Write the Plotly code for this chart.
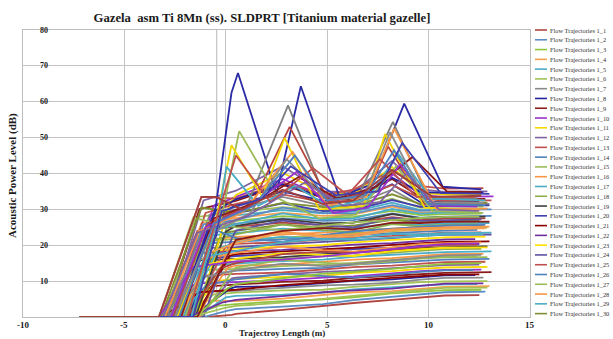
import plotly.graph_objects as go

# Trajectory length stations shared by the main band of trajectories (m)
STATION_X = [0.5, 2.8, 4.8, 6.3, 8.2, 9.6, 10.8]

# One row per trajectory:
# floor start, climb start, knee x, knee level, levels at STATION_X, end x, end level
BAND_ROWS = [
    [-7.2, -0.9, 0.3, 0.6, 0.9, 2.0, 3.2, 3.9, 4.8, 5.5, 6.0, 12.5, 6.1],
    [-6.4, -1.1, 0.1, 1.8, 2.2, 2.9, 3.6, 4.7, 5.6, 6.3, 6.9, 12.8, 7.1],
    [-7.2, -1.9, -0.3, 3.2, 3.6, 4.4, 4.9, 5.5, 6.6, 7.1, 7.5, 12.6, 7.6],
    [-5.1, -2.7, -0.9, 4.6, 4.4, 5.1, 6.2, 6.9, 7.2, 7.9, 8.4, 13.0, 8.6],
    [-7.2, -1.4, 0.0, 5.5, 5.9, 6.2, 6.8, 7.7, 8.3, 8.6, 9.1, 12.4, 9.2],
    [-4.3, -2.2, -0.6, 6.3, 6.8, 7.4, 7.6, 8.4, 9.2, 9.7, 9.9, 12.9, 10.0],
    [-7.2, -3.0, -1.3, 7.1, 7.3, 8.1, 8.8, 9.0, 9.6, 10.4, 10.9, 12.7, 11.0],
    [-6.1, -1.7, 0.2, 7.9, 8.4, 8.6, 9.5, 10.1, 10.5, 11.0, 11.6, 12.3, 11.7],
    [-7.2, -2.4, -0.7, 8.6, 9.0, 9.8, 10.1, 10.9, 11.5, 11.9, 12.3, 13.1, 12.5],
    [-3.7, -3.2, -1.5, 9.4, 9.7, 10.3, 11.0, 11.3, 12.2, 12.8, 13.1, 12.6, 13.2],
    [-7.2, -2.0, -0.4, 10.1, 10.6, 11.2, 11.5, 12.3, 12.8, 13.4, 13.8, 12.9, 14.0],
    [-5.6, -1.3, 0.3, 10.8, 11.0, 11.9, 12.6, 12.9, 13.6, 14.1, 14.5, 12.5, 14.6],
    [-7.2, -2.8, -1.1, 11.5, 12.0, 12.4, 13.3, 13.9, 14.3, 14.9, 15.3, 12.8, 15.4],
    [-6.7, -2.1, -0.5, 12.2, 12.9, 13.4, 13.7, 14.6, 15.2, 15.6, 16.0, 13.0, 16.2],
    [-7.2, -3.3, -1.6, 13.0, 13.4, 14.2, 14.8, 15.1, 15.9, 16.5, 16.8, 12.4, 16.9],
    [-4.9, -1.6, 0.1, 13.7, 14.3, 14.6, 15.4, 16.0, 16.4, 17.1, 17.5, 12.7, 17.6],
    [-7.2, -2.5, -0.8, 14.3, 14.9, 15.6, 16.0, 16.8, 17.3, 17.8, 18.1, 13.1, 18.3],
    [-6.2, -1.8, -0.1, 15.1, 15.4, 16.2, 16.9, 17.2, 18.0, 18.5, 18.9, 12.6, 19.0],
    [-7.2, -3.0, -1.4, 15.8, 16.3, 16.7, 17.5, 18.1, 18.6, 19.2, 19.5, 12.9, 19.7],
    [-5.8, -2.3, -0.6, 16.4, 17.0, 17.6, 18.0, 18.9, 19.3, 19.9, 20.2, 12.5, 20.3],
    [-7.2, -1.5, 0.2, 17.1, 17.5, 18.3, 18.9, 19.3, 20.1, 20.5, 20.9, 13.0, 21.1],
    [-4.4, -3.1, -1.3, 17.8, 18.4, 18.7, 19.5, 20.2, 20.6, 21.2, 21.6, 12.3, 21.7],
    [-7.2, -2.2, -0.5, 18.4, 19.1, 19.6, 20.0, 20.8, 21.5, 21.8, 22.2, 12.8, 22.4],
    [-6.6, -2.9, -1.2, 19.2, 19.5, 20.3, 20.9, 21.3, 22.0, 22.6, 22.9, 13.1, 23.0],
    [-7.2, -1.7, 0.0, 19.8, 20.4, 20.8, 21.6, 22.2, 22.6, 23.1, 23.5, 12.6, 23.6],
    [-5.3, -2.6, -0.9, 20.5, 21.0, 21.7, 22.0, 22.8, 23.4, 23.8, 24.1, 12.4, 24.3],
    [-7.2, -3.2, -1.5, 21.1, 21.7, 22.1, 22.9, 23.4, 23.9, 24.5, 24.8, 12.9, 24.9],
    [-6.0, -2.0, -0.3, 21.9, 22.3, 23.0, 23.5, 24.1, 24.7, 25.0, 25.4, 12.7, 25.6],
    [-7.2, -2.7, -1.0, 22.6, 23.4, 24.6, 24.0, 24.8, 26.0, 25.7, 26.1, 13.0, 26.2],
    [-6.9, -1.9, -0.2, 23.3, 24.0, 25.8, 24.9, 25.5, 27.1, 26.4, 26.8, 12.5, 26.9],
    [-7.2, -3.1, -1.4, 24.0, 25.2, 26.3, 25.6, 26.4, 27.8, 27.0, 27.4, 12.8, 27.5],
    [-4.6, -2.4, -0.7, 24.8, 26.0, 27.5, 26.8, 27.0, 28.9, 27.7, 28.0, 13.1, 28.2],
    [-7.2, -1.6, 0.1, 25.5, 26.8, 28.1, 27.4, 27.9, 29.6, 28.4, 28.7, 12.6, 28.8],
    [-6.3, -2.9, -1.2, 26.2, 27.6, 29.0, 28.2, 28.6, 30.8, 29.1, 29.4, 12.4, 29.5],
    [-7.2, -2.1, -0.4, 27.0, 28.3, 29.8, 28.9, 29.4, 31.9, 29.8, 30.0, 12.9, 30.2],
    [-5.5, -3.3, -1.6, 27.8, 29.1, 30.6, 29.7, 30.2, 33.0, 30.4, 30.7, 12.7, 30.8],
    [-7.2, -2.5, -0.8, 28.5, 30.0, 33.5, 31.0, 31.3, 35.5, 31.2, 31.4, 13.0, 31.5],
    [-6.8, -1.8, -0.1, 29.3, 31.2, 35.0, 32.4, 32.0, 37.0, 32.0, 32.1, 12.5, 32.2],
    [-7.2, -3.0, -1.3, 30.1, 32.4, 36.8, 33.2, 32.8, 38.5, 33.4, 32.8, 12.8, 32.9],
    [-5.9, -2.2, -0.6, 31.0, 33.5, 38.5, 33.8, 33.6, 40.0, 34.0, 33.5, 13.2, 33.6],
    [-7.2, -1.4, 0.2, 31.8, 34.0, 40.2, 34.5, 34.2, 41.8, 34.6, 34.1, 12.6, 34.2],
    [-6.4, -2.8, -1.1, 32.5, 35.2, 42.0, 35.0, 34.8, 43.5, 35.6, 34.9, 12.9, 35.0],
    [-7.2, -3.3, -1.2, 33.5, 33.0, 37.5, 34.0, 35.5, 40.8, 36.5, 35.8, 12.7, 35.9],
    [-7.2, -2.6, -0.9, 9.0, 10.5, 12.0, 11.4, 11.0, 11.8, 12.6, 13.0, 12.2, 13.1],
    [-6.5, -1.2, 0.3, 12.6, 13.8, 15.9, 15.2, 14.6, 15.5, 16.3, 16.6, 12.9, 16.7],
    [-7.2, -3.2, -1.4, 16.0, 17.9, 19.6, 18.6, 18.2, 19.4, 20.3, 20.6, 12.6, 20.8],
    [-4.0, -2.0, -0.4, 18.9, 20.8, 22.4, 21.5, 21.9, 23.2, 23.0, 23.4, 13.1, 23.5],
    [-7.2, -2.9, -1.1, 20.8, 23.0, 25.8, 24.2, 23.6, 25.9, 25.3, 25.7, 12.4, 25.8],
    [-6.1, -1.5, 0.0, 23.8, 25.4, 27.3, 26.1, 26.3, 28.7, 27.5, 27.9, 12.8, 28.0],
    [-7.2, -2.3, -0.7, 26.6, 28.9, 31.7, 29.5, 29.8, 32.6, 30.7, 31.0, 13.0, 31.1],
    [-5.7, -3.1, -1.3, 6.9, 7.6, 8.9, 9.7, 10.2, 10.9, 11.4, 11.8, 12.5, 11.9],
    [-7.2, -1.8, -0.2, 4.0, 4.8, 5.8, 6.9, 7.4, 7.9, 8.7, 9.3, 12.7, 9.4],
    [-6.9, -2.4, -0.8, 14.8, 16.2, 17.8, 17.3, 17.0, 18.4, 18.9, 19.3, 12.9, 19.4],
    [-7.2, -1.1, 0.3, 22.0, 24.1, 26.9, 25.5, 25.0, 27.6, 26.8, 27.0, 12.6, 27.2],
    [-5.0, -2.7, -1.0, 29.0, 31.5, 34.2, 32.0, 32.4, 36.8, 33.1, 32.4, 13.1, 32.5],
    [-7.2, -2.0, -0.6, 24.5, 22.0, 21.0, 22.8, 23.9, 24.6, 25.2, 25.5, 12.8, 25.7],
    [-6.6, -3.0, -1.5, 27.5, 25.0, 24.2, 25.5, 26.4, 27.0, 27.6, 27.9, 12.5, 28.0],
    [-7.2, -1.3, 0.2, 20.0, 21.2, 23.8, 22.6, 23.0, 24.4, 24.8, 25.0, 13.0, 25.2],
    [-5.2, -2.5, -1.0, 16.8, 18.5, 20.9, 21.8, 21.5, 22.1, 22.6, 23.0, 12.7, 23.1],
    [-7.2, -3.2, -1.2, 30.5, 29.0, 31.8, 30.6, 30.9, 34.2, 31.5, 31.8, 12.9, 31.9],
    [-6.0, -1.9, -0.3, 13.5, 15.0, 17.5, 18.2, 17.9, 18.8, 19.6, 20.1, 12.4, 20.2],
    [-7.2, -2.7, -1.1, 25.8, 27.0, 30.5, 29.0, 28.8, 31.2, 29.6, 29.9, 13.1, 30.0],
    [-4.7, -1.5, 0.1, 8.0, 9.2, 10.8, 12.1, 12.6, 13.4, 14.2, 14.8, 12.6, 15.0],
    [-7.2, -2.2, -0.8, 18.0, 20.5, 23.5, 22.3, 22.5, 24.1, 24.2, 24.6, 12.8, 24.7],
    [-6.8, -3.1, -1.4, 22.8, 25.8, 28.9, 27.2, 27.5, 30.1, 28.8, 29.1, 12.3, 29.2],
    [-7.2, -1.7, -0.1, 2.5, 3.1, 4.0, 5.2, 5.9, 6.8, 7.6, 8.1, 12.9, 8.2],
    [-5.4, -2.9, -1.0, 11.2, 13.0, 14.9, 14.2, 14.8, 15.9, 16.6, 17.2, 12.6, 17.3],
    [-7.2, -2.4, -0.5, 29.6, 32.8, 37.0, 33.5, 33.2, 38.8, 34.8, 34.6, 12.7, 34.7],
    [-6.3, -1.4, 0.3, 19.5, 21.5, 24.0, 24.8, 24.4, 26.3, 26.2, 26.5, 13.0, 26.6],
    [-7.2, -3.3, -1.6, 14.0, 15.5, 16.0, 16.9, 17.8, 18.9, 19.8, 20.4, 12.5, 20.5],
]

# Trajectories with strong acoustic peaks (x in m, level in dB)
PEAK_X = [
    [-7.2, -2.4, -0.5, 0.28, 0.6, 2.5, 3.7, 5.6, 7.2, 8.8, 10.7, 12.6],
    [-7.2, -2.9, -1.1, 1.0, 3.07, 4.9, 6.6, 8.24, 10.0, 12.4],
    [-6.0, -2.6, -0.9, 1.3, 3.15, 5.1, 7.0, 8.0, 9.8, 12.5],
    [-7.2, -2.0, -0.2, 0.66, 2.6, 4.6, 6.4, 8.4, 10.2, 12.7],
    [-7.2, -2.4, -0.5, 0.28, 1.8, 2.9, 4.6, 6.8, 7.85, 9.8, 12.5],
    [-7.2, -1.7, -0.3, 0.03, 1.6, 3.4, 5.2, 7.0, 8.5, 10.1, 12.8],
    [-6.3, -3.0, -1.3, 0.8, 3.3, 5.0, 6.9, 8.3, 10.4, 12.9],
    [-7.2, -2.2, -0.6, 1.5, 3.6, 5.5, 7.3, 9.2, 10.9, 12.6],
    [-7.2, -2.7, -1.0, 1.1, 3.5, 5.3, 7.0, 8.6, 10.3, 12.4],
    [-7.2, -2.5, -0.8, 1.2, 3.0, 5.0, 6.8, 8.1, 9.9, 12.7],
    [-5.4, -1.9, -0.4, 0.5, 2.2, 4.3, 6.0, 7.6, 9.4, 12.3],
    [-7.2, -2.3, -0.6, 1.4, 3.4, 5.0, 6.9, 8.3, 10.0, 12.8],
    [-6.7, -3.1, -1.4, 1.0, 3.9, 5.8, 7.6, 8.9, 10.5, 12.5],
    [-7.2, -1.6, -0.2, 1.8, 3.2, 5.4, 7.5, 8.7, 10.6, 13.0],
    [-7.2, -3.3, -1.2, -0.5, 0.8, 2.8, 4.8, 6.3, 8.2, 10.2, 12.6],
]
PEAK_Y = [
    [0, 0, 30.5, 62.5, 68.0, 34.5, 64.3, 33.5, 37.0, 59.5, 36.3, 35.6],
    [0, 0, 24.5, 30.5, 59.0, 33.2, 34.5, 54.4, 33.0, 33.1],
    [0, 0, 26.0, 31.5, 53.0, 32.0, 35.0, 47.5, 31.5, 31.3],
    [0, 0, 28.0, 51.8, 33.0, 27.5, 28.5, 42.0, 29.5, 29.0],
    [0, 0, 26.5, 47.9, 33.5, 49.9, 30.0, 31.0, 51.0, 30.5, 29.8],
    [0, 0, 30.0, 41.9, 31.0, 36.5, 30.5, 33.0, 45.5, 33.0, 32.5],
    [0, 0, 24.0, 29.0, 46.0, 31.0, 33.5, 52.5, 30.0, 30.2],
    [0, 0, 27.5, 32.0, 39.0, 33.0, 36.0, 44.6, 35.0, 34.8],
    [0, 0, 25.0, 30.5, 40.5, 29.0, 30.5, 42.5, 31.0, 30.8],
    [0, 0, 23.0, 29.0, 44.0, 32.5, 33.5, 51.5, 32.0, 31.8],
    [0, 0, 28.5, 45.0, 32.0, 41.5, 34.0, 44.0, 33.5, 33.4],
    [0, 0, 26.0, 31.0, 45.0, 32.5, 34.0, 46.5, 31.5, 31.2],
    [0, 0, 23.5, 28.0, 37.5, 31.0, 32.0, 40.0, 30.0, 29.6],
    [0, 0, 29.5, 33.0, 42.0, 34.0, 35.0, 48.5, 34.5, 34.3],
    [0, 0, 33.5, 33.5, 30.0, 35.5, 31.5, 32.5, 41.0, 33.5, 33.8],
]
PEAK_COLORS = ["#2B2BA6", "#7F7F7F", "#B5473F", "#9BBB59", "#F2D600", "#4BACC6",
               "#F79646", "#8B1A1A", "#9932CC", "#8C8C8C", "#C0504D", "#4F81BD",
               "#8064A2", "#3F3FB0", "#A0403C"]

# Series colour cycle
PALETTE = ["#B0453F", "#5B8CC4", "#8FC43F", "#F5A150", "#4BACC6", "#A3C257",
           "#8A8A8A", "#24249C", "#8B1A1A", "#9932CC", "#F5D800", "#8064A2",
           "#C0504D", "#4F81BD", "#9BBB59", "#F79646", "#4BACC6", "#8DB04A",
           "#404040", "#4040B0", "#8B0000", "#7030A0", "#FFE000", "#6050A0",
           "#C0504D", "#4F81BD", "#9BBB59", "#F79646", "#4BACC6", "#7F8F30"]

X_TICKS = [-10, -5, 0, 5, 10, 15]
X_TICK_TEXT = ["-10", "-5", "0", "5", "10", "15"]
Y_TICKS = [10, 20, 30, 40, 50, 60, 70, 80]
LEGEND_ENTRIES = 30

TITLE = "Gazela\u00a0 asm Ti 8Mn (ss). SLDPRT [Titanium material gazelle]"
X_TITLE = "Trajectroy Length (m)"
Y_TITLE = "Acoustic Power Level (dB)"

SERIF = "Liberation Serif, Times New Roman, serif"
W, H = 613, 339
PLOT_L, PLOT_R, PLOT_T, PLOT_B = 23, 530, 30, 317


def paper_x(px):
    return (px - PLOT_L) / (PLOT_R - PLOT_L)


def paper_y(py):
    return (PLOT_B - py) / (PLOT_B - PLOT_T)


def data_to_px(x):
    return PLOT_L + (x + 10) / 25 * (PLOT_R - PLOT_L)


fig = go.Figure()
names = []
colors = []

for i, row in enumerate(BAND_ROWS):
    floor, rise, kx, ky = row[0], row[1], row[2], row[3]
    levels = row[4:4 + len(STATION_X)]
    ex, ey = row[-2], row[-1]
    xs = [floor, rise, kx] + STATION_X + [ex]
    ys = [0, 0, ky] + levels + [ey]
    name = f"Flow Trajectories 1_{i + 1}"
    color = PALETTE[i % len(PALETTE)]
    names.append(name)
    colors.append(color)
    fig.add_trace(go.Scatter(x=xs, y=ys, mode="lines", name=name,
                             line=dict(color=color, width=1.8),
                             showlegend=False))

for j, (xs, ys) in enumerate(zip(PEAK_X, PEAK_Y)):
    name = f"Flow Trajectories 1_{len(BAND_ROWS) + j + 1}"
    names.append(name)
    colors.append(PEAK_COLORS[j])
    fig.add_trace(go.Scatter(x=xs, y=ys, mode="lines", name=name,
                             line=dict(color=PEAK_COLORS[j], width=1.8),
                             showlegend=False))

shapes = [
    # extra vertical rule just left of x = 0
    dict(type="line", xref="x", yref="paper", x0=-0.45, x1=-0.45, y0=0, y1=1,
         line=dict(color="#c4c4c4", width=1.2), layer="below"),
]
annotations = []

# compact legend column on the right
for k in range(LEGEND_ENTRIES):
    py = 30 + k * 9.78
    shapes.append(dict(type="line", xref="paper", yref="paper",
                       x0=paper_x(535), x1=paper_x(547), y0=paper_y(py), y1=paper_y(py),
                       line=dict(color=colors[k], width=1.6)))
    annotations.append(dict(xref="paper", yref="paper", x=paper_x(548), y=paper_y(py),
                            text=names[k], showarrow=False, xanchor="left", yanchor="middle",
                            font=dict(family=SERIF, size=6.4, color="#333333")))

# value labels for the level axis, drawn just inside the frame
for v in Y_TICKS:
    annotations.append(dict(xref="paper", yref="y", x=paper_x(44), y=v,
                            text=f"<b>{v}</b>", showarrow=False,
                            xanchor="center", yanchor="middle",
                            font=dict(family=SERIF, size=8, color="#1a1a1a")))

# value labels for the length axis, just under the frame
for v, t in zip(X_TICKS, X_TICK_TEXT):
    annotations.append(dict(xref="paper", yref="paper", x=paper_x(data_to_px(v)),
                            y=paper_y(325), text=f"<b>{t}</b>", showarrow=False,
                            xanchor="center", yanchor="middle",
                            font=dict(family=SERIF, size=9, color="#1a1a1a")))

annotations.append(dict(xref="paper", yref="paper", x=paper_x(282), y=paper_y(333),
                        text=f"<b>{X_TITLE}</b>", showarrow=False,
                        xanchor="center", yanchor="middle",
                        font=dict(family=SERIF, size=9, color="#1a1a1a")))
annotations.append(dict(xref="paper", yref="paper", x=paper_x(12), y=paper_y(176),
                        text=f"<b>{Y_TITLE}</b>", showarrow=False, textangle=-90,
                        xanchor="center", yanchor="middle",
                        font=dict(family=SERIF, size=11, color="#1a1a1a")))

fig.update_layout(
    width=W, height=H,
    margin=dict(l=PLOT_L, r=W - PLOT_R, t=PLOT_T, b=H - PLOT_B, autoexpand=False),
    paper_bgcolor="white", plot_bgcolor="white",
    showlegend=False,
    title=dict(text=f"<b>{TITLE}</b>", x=262 / W, xref="container", xanchor="center",
               y=1 - 18 / H, yref="container", yanchor="middle",
               font=dict(family=SERIF, size=12.7, color="#1a1a1a")),
    shapes=shapes,
    annotations=annotations,
)

fig.update_xaxes(range=[-10, 15], tickvals=X_TICKS, showticklabels=False,
                 showgrid=True, gridcolor="#c4c4c4", gridwidth=1.2, zeroline=False,
                 showline=True, linecolor="#bdbdbd", linewidth=1.2, mirror=True,
                 ticks="")
fig.update_yaxes(range=[0, 80], tickvals=Y_TICKS, showticklabels=False,
                 showgrid=True, gridcolor="#c4c4c4", gridwidth=1.2, zeroline=False,
                 showline=True, linecolor="#bdbdbd", linewidth=1.2, mirror=True,
                 ticks="")

fig.write_html("out.html")
